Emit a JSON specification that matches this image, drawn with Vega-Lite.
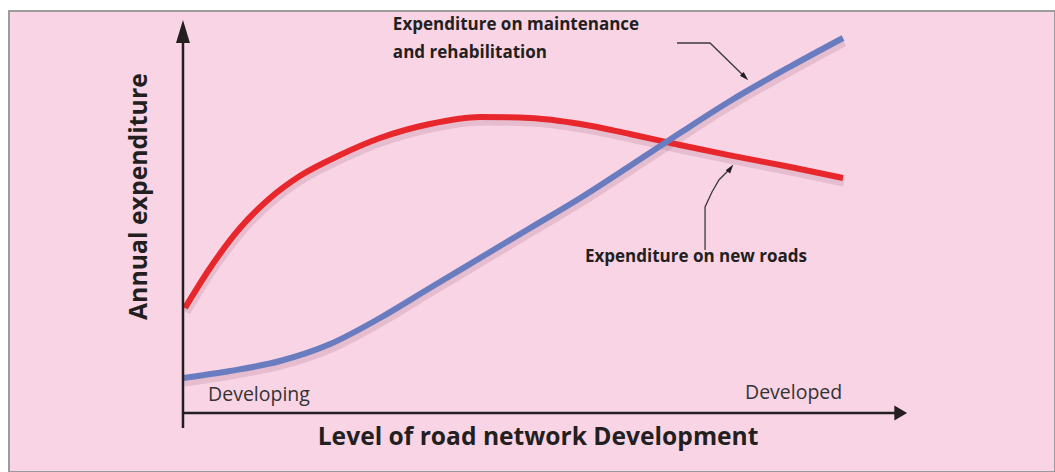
{
  "$schema": "https://vega.github.io/schema/vega-lite/v6.json",
  "width": 1055,
  "height": 472,
  "autosize": {"type": "fit", "contains": "padding"},
  "padding": {"left": 9, "top": 11, "right": 0, "bottom": 0},
  "background": "white",
  "config": {"view": {"fill": "#f9d4e5", "stroke": "#9c9c9c", "strokeWidth": 2}},
  "datasets": {
    "curves": [
      {"series": "Expenditure on new roads", "level": 0.3, "spend": 26.25},
      {"series": "Expenditure on new roads", "level": 4.1, "spend": 36.25},
      {"series": "Expenditure on new roads", "level": 8.64, "spend": 46.25},
      {"series": "Expenditure on new roads", "level": 13.2, "spend": 53.75},
      {"series": "Expenditure on new roads", "level": 17.7, "spend": 59.25},
      {"series": "Expenditure on new roads", "level": 23.8, "spend": 64.5},
      {"series": "Expenditure on new roads", "level": 29.85, "spend": 68.75},
      {"series": "Expenditure on new roads", "level": 37.4, "spend": 72.25},
      {"series": "Expenditure on new roads", "level": 45, "spend": 74},
      {"series": "Expenditure on new roads", "level": 52.6, "spend": 73.75},
      {"series": "Expenditure on new roads", "level": 60.2, "spend": 72.25},
      {"series": "Expenditure on new roads", "level": 67.7, "spend": 69.75},
      {"series": "Expenditure on new roads", "level": 75.3, "spend": 67},
      {"series": "Expenditure on new roads", "level": 82.9, "spend": 64.4},
      {"series": "Expenditure on new roads", "level": 92, "spend": 61.5},
      {"series": "Expenditure on new roads", "level": 100, "spend": 58.75},
      {"series": "Expenditure on maintenance and rehabilitation", "level": 0, "spend": 8.75},
      {"series": "Expenditure on maintenance and rehabilitation", "level": 7.12, "spend": 10.5},
      {"series": "Expenditure on maintenance and rehabilitation", "level": 14.7, "spend": 13},
      {"series": "Expenditure on maintenance and rehabilitation", "level": 22.3, "spend": 17.25},
      {"series": "Expenditure on maintenance and rehabilitation", "level": 29.85, "spend": 23.75},
      {"series": "Expenditure on maintenance and rehabilitation", "level": 37.4, "spend": 31.25},
      {"series": "Expenditure on maintenance and rehabilitation", "level": 45, "spend": 38.75},
      {"series": "Expenditure on maintenance and rehabilitation", "level": 52.6, "spend": 46.25},
      {"series": "Expenditure on maintenance and rehabilitation", "level": 60.2, "spend": 53.75},
      {"series": "Expenditure on maintenance and rehabilitation", "level": 67.7, "spend": 61.75},
      {"series": "Expenditure on maintenance and rehabilitation", "level": 75.3, "spend": 70.0},
      {"series": "Expenditure on maintenance and rehabilitation", "level": 82.9, "spend": 78.0},
      {"series": "Expenditure on maintenance and rehabilitation", "level": 92, "spend": 86.6},
      {"series": "Expenditure on maintenance and rehabilitation", "level": 100, "spend": 93.75}
    ],
    "axes": [
      {"axis": "y", "level": 0, "spend": -3.75, "level2": 0, "spend2": 94},
      {"axis": "x", "level": 0, "spend": 0, "level2": 108, "spend2": 0}
    ],
    "yhead": [{"level": 0, "spend": 95.25}],
    "xhead": [{"level": 108.5, "spend": 0}],
    "pointers": [
      {"arrow": "maintenance", "order": 1, "level": 74.85, "spend": 92.5},
      {"arrow": "maintenance", "order": 2, "level": 79.85, "spend": 92.5},
      {"arrow": "maintenance", "order": 3, "level": 85.15, "spend": 84.0},
      {"arrow": "newroads", "order": 1, "level": 79.1, "spend": 40.75},
      {"arrow": "newroads", "order": 2, "level": 79.1, "spend": 51.5},
      {"arrow": "newroads", "order": 3, "level": 80.15, "spend": 55.25},
      {"arrow": "newroads", "order": 4, "level": 81.2, "spend": 58.25},
      {"arrow": "newroads", "order": 5, "level": 82.97, "spend": 61.2}
    ],
    "head1": [{"level": 85.15, "spend": 84.0}],
    "head2": [{"level": 82.97, "spend": 61.2}],
    "notes": [
      {"text": "Expenditure on maintenance", "level": 31.8, "spend": 95.75},
      {"text": "and rehabilitation", "level": 31.8, "spend": 88.75},
      {"text": "Expenditure on new roads", "level": 60.9, "spend": 37.75}
    ],
    "ends": [
      {"text": "Developing", "level": 3.8, "spend": 3.0},
      {"text": "Developed", "level": 85.15, "spend": 3.5}
    ],
    "xtitle": [{"text": "Level of road network Development", "level": 53.8, "spend": -8}],
    "ytitle": [{"text": "Annual expenditure", "level": -5.45, "spend": 54.1}]
  },
  "encoding": {
    "x": {"field": "level", "type": "quantitative", "scale": {"domain": [-26.36, 132.12], "nice": false, "zero": false}, "axis": null},
    "y": {"field": "spend", "type": "quantitative", "scale": {"domain": [-14.75, 100.5], "nice": false, "zero": false}, "axis": null}
  },
  "layer": [
    {
      "data": {"name": "curves"},
      "mark": {"type": "line", "interpolate": "monotone", "strokeWidth": 9, "color": "#8a5a70", "opacity": 0.18, "yOffset": 4, "xOffset": 1, "strokeCap": "butt"},
      "encoding": {"detail": {"field": "series"}}
    },
    {
      "data": {"name": "curves"},
      "mark": {"type": "line", "interpolate": "monotone", "strokeWidth": 6, "strokeCap": "butt"},
      "encoding": {
        "color": {"field": "series", "type": "nominal", "legend": null,
          "scale": {"domain": ["Expenditure on new roads", "Expenditure on maintenance and rehabilitation"], "range": ["#e8272c", "#6a7cc0"]}}
      }
    },
    {
      "data": {"name": "axes"},
      "mark": {"type": "rule", "color": "#231f20", "strokeWidth": 2.5},
      "encoding": {"x2": {"field": "level2"}, "y2": {"field": "spend2"}}
    },
    {
      "data": {"name": "yhead"},
      "mark": {"type": "point", "shape": "M0,-1L0.58,0.92L-0.58,0.92Z", "size": 576, "filled": true, "color": "#231f20", "opacity": 1},
      "encoding": {}
    },
    {
      "data": {"name": "xhead"},
      "mark": {"type": "point", "shape": "M1,0L-0.6,-0.94L-0.6,0.94Z", "size": 256, "filled": true, "color": "#231f20", "opacity": 1},
      "encoding": {}
    },
    {
      "data": {"name": "pointers"},
      "mark": {"type": "line", "color": "#3a3a3a", "strokeWidth": 1.3},
      "encoding": {"detail": {"field": "arrow"}, "order": {"field": "order", "type": "quantitative"}}
    },
    {
      "data": {"name": "head1"},
      "mark": {"type": "point", "shape": "M0,-1L0.6,1L-0.6,1Z", "size": 81, "filled": true, "color": "#231f20", "opacity": 1, "angle": 135},
      "encoding": {}
    },
    {
      "data": {"name": "head2"},
      "mark": {"type": "point", "shape": "M0,-1L0.6,1L-0.6,1Z", "size": 81, "filled": true, "color": "#231f20", "opacity": 1, "angle": 36},
      "encoding": {}
    },
    {
      "data": {"name": "notes"},
      "mark": {"type": "text", "font": "Open Sans", "fontWeight": "bold", "fontSize": 17, "align": "left", "baseline": "alphabetic", "color": "#231f20"},
      "encoding": {"text": {"field": "text"}}
    },
    {
      "data": {"name": "ends"},
      "mark": {"type": "text", "font": "Open Sans", "fontSize": 19.5, "align": "left", "baseline": "alphabetic", "color": "#333333"},
      "encoding": {"text": {"field": "text"}}
    },
    {
      "data": {"name": "xtitle"},
      "mark": {"type": "text", "font": "Open Sans", "fontWeight": "bold", "fontSize": 24.6, "align": "center", "baseline": "alphabetic", "color": "#231f20"},
      "encoding": {"text": {"field": "text"}}
    },
    {
      "data": {"name": "ytitle"},
      "mark": {"type": "text", "font": "Open Sans", "fontWeight": "bold", "fontSize": 24.8, "align": "center", "baseline": "alphabetic", "angle": 270, "color": "#231f20"},
      "encoding": {"text": {"field": "text"}}
    }
  ]
}
